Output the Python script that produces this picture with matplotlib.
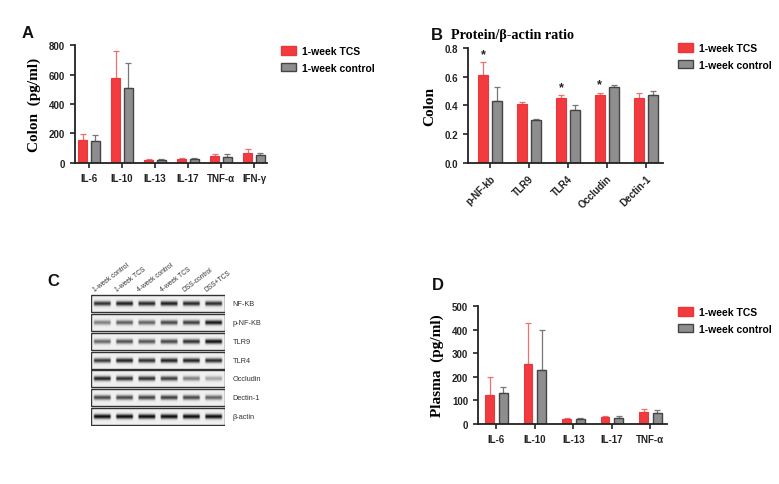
import numpy as np
import matplotlib
matplotlib.use('Agg')
import matplotlib.pyplot as plt
from matplotlib.patches import Rectangle, Patch

plt.rcParams['font.family'] = ['Liberation Sans', 'DejaVu Sans']
plt.rcParams['font.weight'] = 'bold'

RED = '#f23b3f'
RED_EDGE = '#e8383c'
RED_ERR = '#f07070'
GREY = '#8e8e8e'
GREY_EDGE = '#444444'
GREY_ERR = '#777777'

# Panel A - colon cytokines (pg/ml)
cyto_a = ['IL-6', 'IL-10', 'IL-13', 'IL-17', 'TNF-α', 'IFN-γ']
tcs_a = [157, 574, 20, 27, 44, 69]
tcs_a_err = [40, 185, 9, 9, 15, 24]
ctl_a = [152, 508, 18, 25, 43, 56]
ctl_a_err = [37, 168, 7, 7, 16, 10]

# Panel B - protein / beta-actin ratio
prot_b = ['p-NF-kb', 'TLR9', 'TLR4', 'Occludin', 'Dectin-1']
tcs_b = [0.615, 0.41, 0.455, 0.475, 0.455]
tcs_b_err = [0.085, 0.015, 0.017, 0.015, 0.033]
ctl_b = [0.43, 0.30, 0.37, 0.525, 0.47]
ctl_b_err = [0.10, 0.005, 0.035, 0.015, 0.028]
star_b = [True, False, True, True, False]

# Panel C - western blot band intensities (0 = none, 1 = black)
lanes = ['1-week control', '1-week TCS', '4-week control', '4-week TCS', 'DSS-control', 'DSS+TCS']
blot_rows = ['NF-KB', 'p-NF-KB', 'TLR9', 'TLR4', 'Occludin', 'Dectin-1', 'β-actin']
band_nfkb = [0.82, 0.90, 0.86, 0.90, 0.86, 0.84]
band_pnfkb = [0.48, 0.62, 0.60, 0.72, 0.76, 0.94]
band_tlr9 = [0.58, 0.68, 0.66, 0.72, 0.82, 0.96]
band_tlr4 = [0.78, 0.88, 0.82, 0.88, 0.88, 0.84]
band_occl = [0.88, 0.82, 0.82, 0.76, 0.48, 0.32]
band_dect = [0.72, 0.72, 0.74, 0.76, 0.72, 0.60]
band_actin = [0.98, 0.98, 0.98, 0.98, 0.98, 0.98]
blot = [band_nfkb, band_pnfkb, band_tlr9, band_tlr4, band_occl, band_dect, band_actin]

# Panel D - plasma cytokines (pg/ml)
cyto_d = ['IL-6', 'IL-10', 'IL-13', 'IL-17', 'TNF-α']
tcs_d = [122, 255, 21, 28, 52]
tcs_d_err = [79, 175, 6, 7, 10]
ctl_d = [130, 230, 21, 27, 48]
ctl_d_err = [28, 169, 6, 5, 10]

fig = plt.figure(figsize=(7.79, 4.85), dpi=100)


def bars(ax, cats, v1, e1, v2, e2, width, off):
    x = np.arange(len(cats))
    ax.bar(x - off, v1, width, color=RED, edgecolor=RED_EDGE, linewidth=0.8, zorder=2)
    ax.bar(x + off, v2, width, color=GREY, edgecolor=GREY_EDGE, linewidth=1.0, zorder=2)
    ax.errorbar(x - off, v1, yerr=[np.zeros(len(cats)), e1], fmt='none',
                ecolor=RED_ERR, elinewidth=0.9, capsize=2.5, capthick=0.9, zorder=1)
    ax.errorbar(x + off, v2, yerr=[np.zeros(len(cats)), e2], fmt='none',
                ecolor=GREY_ERR, elinewidth=0.9, capsize=2.5, capthick=0.9, zorder=1)
    for s in ['top', 'right']:
        ax.spines[s].set_visible(False)
    for s in ['left', 'bottom']:
        ax.spines[s].set_linewidth(1.3)
        ax.spines[s].set_color('#222222')
    ax.tick_params(axis='both', width=1.2, length=3.5, labelsize=7, colors='#222222')
    ax.set_xticks(x)
    ax.set_xticklabels(cats)


def legend(x, y):
    h = [Patch(facecolor=RED, edgecolor=RED_EDGE, label='1-week TCS'),
         Patch(facecolor=GREY, edgecolor=GREY_EDGE, label='1-week control')]
    fig.legend(handles=h, loc='upper left', bbox_to_anchor=(x / 779, 1 - y / 485),
               frameon=False, fontsize=7.5, handlelength=1.4, handleheight=0.85,
               labelspacing=0.65, handletextpad=0.6, borderaxespad=0, borderpad=0)


serif = {'family': 'Liberation Serif', 'weight': 'bold'}

# A
axA = fig.add_axes([0.0963, 0.662, 0.2465, 0.243])
bars(axA, cyto_a, tcs_a, tcs_a_err, ctl_a, ctl_a_err, 0.27, 0.19)
axA.set_xlim(-0.42, 5.39)
axA.set_ylim(0, 800)
axA.set_yticks([0, 200, 400, 600, 800])
axA.set_ylabel('Colon  (pg/ml)', fontdict=serif, fontsize=11, labelpad=6)
legend(281, 47)

# B
axB = fig.add_axes([0.601, 0.662, 0.250, 0.237])
bars(axB, prot_b, tcs_b, tcs_b_err, ctl_b, ctl_b_err, 0.26, 0.18)
axB.set_xlim(-0.56, 4.44)
axB.set_ylim(0, 0.8)
axB.set_yticks([0.0, 0.2, 0.4, 0.6, 0.8])
axB.set_yticklabels(['0.0', '0.2', '0.4', '0.6', '0.8'])
plt.setp(axB.get_xticklabels(), rotation=45, ha='right', rotation_mode='anchor')
axB.set_ylabel('Colon', fontdict=serif, fontsize=11, labelpad=6)
for i in range(len(prot_b)):
    if star_b[i]:
        axB.text(i - 0.18, tcs_b[i] + tcs_b_err[i] + 0.015, '*', ha='center', va='bottom',
                 fontsize=9, color='#222222')
fig.text(451 / 779, 1 - 36 / 485, 'Protein/β-actin ratio', fontdict=serif, fontsize=10.2,
         ha='left', va='center')
legend(678, 44)

# C - western blot
axC = fig.add_axes([0.1168, 0.1196, 0.172, 0.272])
axC.set_xlim(0, 6)
axC.set_ylim(7, 0)
axC.axis('off')
yy = np.linspace(-1, 1, 40)[:, None]
xx = np.linspace(0, 6, 360)[None, :]
lane_pos = (xx % 1.0) - 0.5
for r, vals in enumerate(blot):
    img = np.full((40, 360), 0.94)
    for l, v in enumerate(vals):
        m = (xx >= l) & (xx < l + 1)
        prof = np.exp(-(yy / 0.28) ** 2) * np.clip((0.41 - np.abs(lane_pos)) / 0.07, 0, 1)
        img = np.where(m, img - v * 0.9 * prof, img)
    axC.imshow(np.clip(img, 0, 1), cmap='gray', vmin=0, vmax=1, aspect='auto',
               extent=(0, 6, r + 0.95, r + 0.05), interpolation='bilinear')
    axC.add_patch(Rectangle((0, r + 0.05), 6, 0.9, fill=False, edgecolor='#333333', lw=1.0))
    axC.text(6.35, r + 0.5, blot_rows[r], ha='left', va='center', fontsize=5.3,
             fontweight='normal', color='#333333', clip_on=False)
for l, name in enumerate(lanes):
    axC.text(l + 0.22, -0.08, name, rotation=37, ha='left', va='bottom', rotation_mode='anchor',
             fontsize=4.8, fontweight='normal', color='#333333', clip_on=False)

# D
axD = fig.add_axes([0.6136, 0.1237, 0.2426, 0.243])
bars(axD, cyto_d, tcs_d, tcs_d_err, ctl_d, ctl_d_err, 0.23, 0.18)
axD.set_xlim(-0.48, 4.43)
axD.set_ylim(0, 500)
axD.set_yticks([0, 100, 200, 300, 400, 500])
axD.set_ylabel('Plasma  (pg/ml)', fontdict=serif, fontsize=11, labelpad=6)
legend(678, 308)

# panel letters
for lab, px, py in [('A', 28, 34), ('B', 437, 35), ('C', 53, 281), ('D', 438, 285)]:
    fig.text(px / 779, 1 - py / 485, lab, ha='center', va='center', fontsize=12,
             fontweight='bold', color='#111111')

fig.savefig('out.png', dpi=100)
